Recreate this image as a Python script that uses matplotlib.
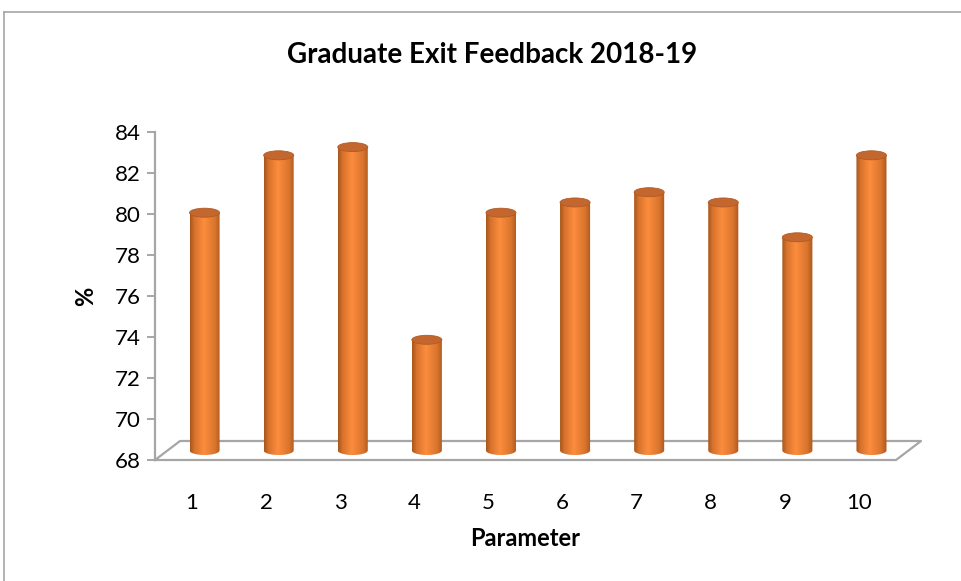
import numpy as np
import matplotlib.pyplot as plt
from matplotlib.patches import Ellipse, Polygon
from matplotlib.lines import Line2D

# survey results per parameter (%)
params = [str(i) for i in range(1, 11)]
scores = [79.6, 82.4, 82.8, 73.4, 79.6, 80.1, 80.6, 80.1, 78.4, 82.4]
yticks = [68, 70, 72, 74, 76, 78, 80, 82, 84]

plt.rcParams['font.family'] = ['Lato', 'DejaVu Sans']

W, H = 962, 581
fig = plt.figure(figsize=(W / 100, H / 100), dpi=100)
ax = fig.add_axes([155 / W, (H - 460) / H, (896 - 155) / W, (460 - 132) / H])
ax.set_xlim(0.5, 10.5)
ax.set_ylim(68, 84)

gray = '#a6a6a6'
px_x = 74.0          # pixels per category
px_y = 20.5          # pixels per unit
dx, dy = 25 / px_x, 19 / px_y       # depth of the floor
hw = 15 / px_x                      # cylinder half width
eh = 9 / px_y                       # ellipse height

# floor
floor = [(0.5, 68), (10.5, 68), (10.5 + dx, 68 + dy), (0.5 + dx, 68 + dy), (0.5, 68)]
ax.add_line(Line2D(*zip(*floor), color=gray, lw=1.6, clip_on=False, zorder=1))

# horizontal shading for the cylinder body
t = np.linspace(0, 1, 200)
shade = np.interp(t, [0, 0.15, 0.45, 0.8, 1], [0.0, 0.55, 1.0, 0.6, 0.05])
dark = np.array([0.66, 0.33, 0.10])
light = np.array([0.99, 0.55, 0.24])
grad = (dark[None, :] + (light - dark)[None, :] * shade[:, None])[None, :, :]

for i, v in enumerate(scores):
    cx = i + 1 + dx / 2
    yb = 68 + dy / 2
    yt = v + dy / 2
    arc = np.linspace(np.pi, 2 * np.pi, 40)
    pts = [(cx - hw, yt)] + [(cx + hw * np.cos(a), yb + eh / 2 * np.sin(a)) for a in arc] + [(cx + hw, yt)]
    body = Polygon(pts, closed=True, facecolor='none', edgecolor='none')
    ax.add_patch(body)
    im = ax.imshow(grad, extent=[cx - hw, cx + hw, yb - eh, yt], aspect='auto',
                   zorder=3, interpolation='bilinear')
    im.set_clip_path(body)
    ax.add_patch(Ellipse((cx, yt), 2 * hw, eh, facecolor='#c4672e',
                         edgecolor='#b25a22', lw=0.6, zorder=4))

ax.set_xticks(range(1, 11))
ax.set_xticklabels(params)
ax.set_yticks(yticks)
ax.tick_params(axis='x', length=0, pad=24, labelsize=16)
ax.tick_params(axis='y', length=6, width=1.4, color=gray, pad=4, labelsize=16)
for s in ['top', 'right', 'bottom']:
    ax.spines[s].set_visible(False)
ax.spines['left'].set_color(gray)
ax.spines['left'].set_linewidth(1.6)

ax.set_xlabel('Parameter', fontsize=17, fontweight='bold', labelpad=10)
ax.set_ylabel('%', fontsize=17, fontweight='bold', labelpad=13)
fig.text(492 / W, 1 - 55 / H, 'Graduate Exit Feedback 2018-19', ha='center', va='center',
         fontsize=20, fontweight='bold')

# chart border
fig.add_artist(Line2D([4 / W, 4 / W], [0, 1 - 12 / H], color=gray, lw=1.2))
fig.add_artist(Line2D([4 / W, 1], [1 - 12 / H, 1 - 12 / H], color=gray, lw=1.2))

fig.savefig('out.png', dpi=100)
